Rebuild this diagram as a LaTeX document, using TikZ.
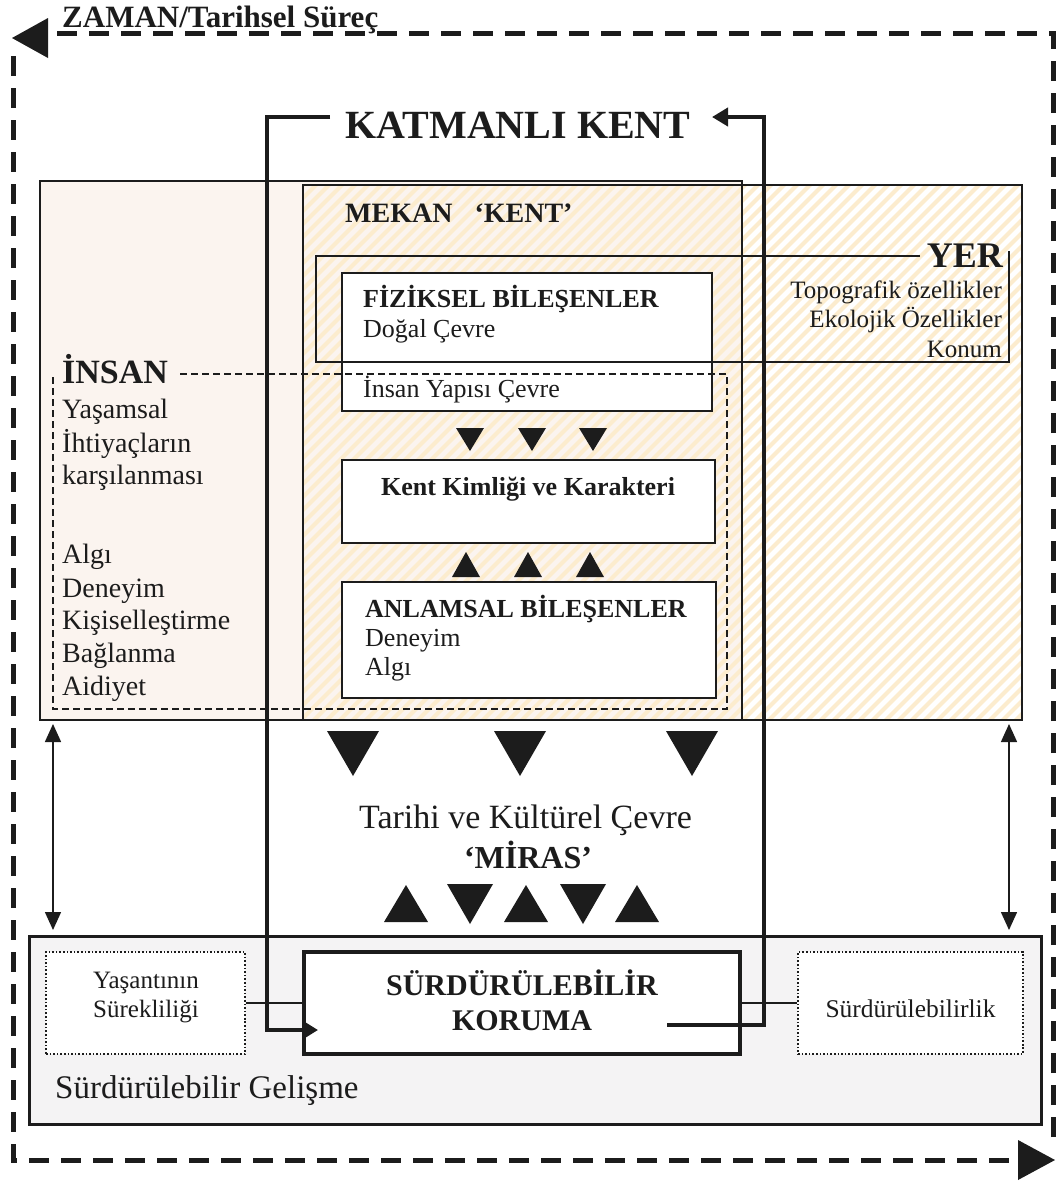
\documentclass[tikz,border=0pt]{standalone}
\usepackage{fontspec}
\setmainfont{Liberation Serif}
\usetikzlibrary{arrows.meta}
\newcommand\myfs[1]{\fontsize{#1bp}{#1bp}\selectfont}
\definecolor{peach}{RGB}{251,244,239}
\definecolor{stripecol}{RGB}{252,236,206}
\definecolor{ink}{RGB}{28,28,28}
\definecolor{panel}{RGB}{244,243,244}
\begin{document}
\begin{tikzpicture}[x=1bp,y=-1bp,
  txt/.style={inner sep=0pt,text=ink},
  whitebox/.style={draw=ink,fill=white,line width=2bp,inner sep=0pt},
  dotbox/.style={draw=ink,fill=white,line width=1.6bp,dotted,inner sep=0pt},
  stripeline/.style={draw=stripecol,line width=4bp},
  tri/.style={fill=ink},
  thickloop/.style={draw=ink,line width=4.5bp},
  outerdash/.style={draw=ink,line width=5bp,dash pattern=on 20bp off 12bp},
  dbl/.style={draw=ink,line width=1.5bp,{Triangle[length=18bp,width=16bp]}-{Triangle[length=18bp,width=16bp]}}
]
\useasboundingbox (0,0) rectangle (1063,1182);
\fill[white] (0,0) rectangle (1063,1182);

% INSAN area fill
\fill[peach] (40,181) rectangle (742,720);
% hatched MEKAN / YER area
\begin{scope}
  \clip (303,185) rectangle (1022,720);
  \foreach \i in {-250,-237,...,1030} {\draw[stripeline] (\i,725) -- ++(560,-560);}
\end{scope}
\draw[ink,line width=2.5bp] (40,181) rectangle (742,720);
\draw[ink,line width=2bp] (303,185) rectangle (1022,720);

% white boxes
\node[whitebox,minimum width=370bp,minimum height=138bp] (fiz) at (527,342) {};
\node[whitebox,minimum width=373bp,minimum height=83bp] (kent) at (528.5,501.5) {};
\node[whitebox,minimum width=374bp,minimum height=116bp] (anl) at (529,640) {};

% YER frame
\coordinate (yerA) at (920,256);
\coordinate (yerB) at (316,256);
\coordinate (yerC) at (316,362);
\coordinate (yerD) at (1009,362);
\coordinate (yerE) at (1009,251);
\draw[ink,line width=1.5bp] (yerA) -- (yerB) -- (yerC) -- (yerD) -- (yerE);

% INSAN dashed frame
\coordinate (inA) at (180,374);
\coordinate (inB) at (727,374);
\coordinate (inC) at (727,709);
\coordinate (inD) at (53,709);
\coordinate (inE) at (53,376);
\draw[ink,line width=2bp,dash pattern=on 7bp off 4bp] (inA) -- (inB) -- (inC) -- (inD) -- (inE);

% texts upper
\node[txt,anchor=base,font=\myfs{40}\bfseries] (katmanli) at (518,138) {KATMANLI KENT};
\node[txt,anchor=base west,font=\myfs{28}\bfseries] (mekan) at (345,222) {MEKAN\hspace{22bp}‘KENT’};
\node[txt,anchor=base east,font=\myfs{36}\bfseries] (yer) at (1003,267) {YER};
\node[txt,anchor=base east,font=\myfs{25}] (yer1) at (1002,298) {Topografik özellikler};
\node[txt,anchor=base east,font=\myfs{25}] (yer2) at (1002,327) {Ekolojik Özellikler};
\node[txt,anchor=base east,font=\myfs{25}] (yer3) at (1002,357) {Konum};

\node[txt,anchor=base west,font=\myfs{26}\bfseries] (fiz1) at (363,307) {FİZİKSEL BİLEŞENLER};
\node[txt,anchor=base west,font=\myfs{26}] (fiz2) at (363,337) {Doğal Çevre};
\node[txt,anchor=base west,font=\myfs{26}] (fiz3) at (363,397) {İnsan Yapısı Çevre};
\node[txt,anchor=base,font=\myfs{26}\bfseries] (kent1) at (528,495) {Kent Kimliği ve Karakteri};
\node[txt,anchor=base west,font=\myfs{26}\bfseries] (anl1) at (365,617) {ANLAMSAL BİLEŞENLER};
\node[txt,anchor=base west,font=\myfs{26}] (anl2) at (365,646) {Deneyim};
\node[txt,anchor=base west,font=\myfs{26}] (anl3) at (365,675) {Algı};

\node[txt,anchor=base west,font=\myfs{34}\bfseries] (insan) at (62,383) {İNSAN};
\node[txt,anchor=base west,font=\myfs{28}] (ins1) at (62,418) {Yaşamsal};
\node[txt,anchor=base west,font=\myfs{28}] (ins2) at (62,452) {İhtiyaçların};
\node[txt,anchor=base west,font=\myfs{28}] (ins3) at (62,484) {karşılanması};
\node[txt,anchor=base west,font=\myfs{28}] (ins4) at (62,563) {Algı};
\node[txt,anchor=base west,font=\myfs{28}] (ins5) at (62,597) {Deneyim};
\node[txt,anchor=base west,font=\myfs{28}] (ins6) at (62,629) {Kişiselleştirme};
\node[txt,anchor=base west,font=\myfs{28}] (ins7) at (62,662) {Bağlanma};
\node[txt,anchor=base west,font=\myfs{28}] (ins8) at (62,695) {Aidiyet};

% small triangles
\foreach \c in {470,532,593} {\fill[tri] (\c-14,428) -- (\c+14,428) -- (\c,451) -- cycle;}
\foreach \c in {466,528,590} {\fill[tri] (\c-14,577) -- (\c+14,577) -- (\c,552) -- cycle;}

% big triangles
\foreach \c in {353,520,692} {\fill[tri] (\c-26,731) -- (\c+26,731) -- (\c,776) -- cycle;}

\node[txt,anchor=base,font=\myfs{34}] (tarihi) at (525.5,828) {Tarihi ve Kültürel Çevre};
\node[txt,anchor=base,font=\myfs{32}\bfseries] (miras) at (528,868) {‘MİRAS’};

\foreach \c in {406,526,637} {\fill[tri] (\c-22,922) -- (\c+22,922) -- (\c,885) -- cycle;}
\foreach \c in {470,583} {\fill[tri] (\c-23,884) -- (\c+23,884) -- (\c,924) -- cycle;}

% bottom panel
\node[draw=ink,fill=panel,line width=3bp,minimum width=1011bp,minimum height=188bp,inner sep=0pt] (panel) at (535.5,1030) {};
\node[dotbox,minimum width=199bp,minimum height=102bp] (yas) at (145.5,1003) {};
\node[dotbox,minimum width=225bp,minimum height=102bp] (surdb) at (910.5,1003) {};
\node[draw=ink,fill=white,line width=3.5bp,minimum width=436bp,minimum height=102bp,inner sep=0pt] (kor) at (522,1003) {};
\draw[ink,line width=1.5bp] (yas.east) -- (kor.west);
\draw[ink,line width=1.5bp] (kor.east) -- (surdb.west);

\node[txt,anchor=base,font=\myfs{25}] (yas1) at (146,988) {Yaşantının};
\node[txt,anchor=base,font=\myfs{25}] (yas2) at (146,1017) {Sürekliliği};
\node[txt,anchor=base,font=\myfs{30}\bfseries] (kor1) at (522,995) {SÜRDÜRÜLEBİLİR};
\node[txt,anchor=base,font=\myfs{30}\bfseries] (kor2) at (522,1030) {KORUMA};
\node[txt,anchor=base,font=\myfs{25.5}] (surd1) at (910.5,1017) {Sürdürülebilirlik};
\node[txt,anchor=base west,font=\myfs{33}] (gel) at (55,1098) {Sürdürülebilir Gelişme};

% double arrows
\coordinate (dLt) at (53,724);
\coordinate (dLb) at (53,930);
\coordinate (dRt) at (1009,724);
\coordinate (dRb) at (1009,930);
\draw[dbl] (dLt) -- (dLb);
\draw[dbl] (dRt) -- (dRb);

% thick loop
\coordinate (lpA) at (667,1025);
\coordinate (lpB) at (764,1025);
\coordinate (lpC) at (764,117);
\coordinate (lpD) at (712,117);
\coordinate (lpE) at (330,117);
\coordinate (lpF) at (267,117);
\coordinate (lpG) at (267,1030);
\coordinate (lpH) at (318,1030);
\draw[thickloop,-{Triangle[length=16bp,width=18bp]}] (lpA) -- (lpB) -- (lpC) -- (lpD);
\draw[thickloop,-{Triangle[length=13bp,width=15bp]}] (lpE) -- (lpF) -- (lpG) -- (lpH);

% outer time loop
\coordinate (oA) at (1053,1137);
\coordinate (oB) at (1053,33);
\coordinate (oC) at (48,33);
\coordinate (oD) at (13,56);
\coordinate (oE) at (13,1160);
\coordinate (oF) at (1018,1160);
\draw[outerdash] (oA) -- (oB) -- (oC);
\draw[outerdash] (oD) -- (oE) -- (oF);
\fill[ink] (12,38) -- (48,18) -- (48,58) -- cycle;
\fill[ink] (1055,1160) -- (1018,1140) -- (1018,1180) -- cycle;
\node[txt,anchor=base west,font=\myfs{31}\bfseries] (zaman) at (62,27) {ZAMAN/Tarihsel Süreç};
\end{tikzpicture}
\end{document}
